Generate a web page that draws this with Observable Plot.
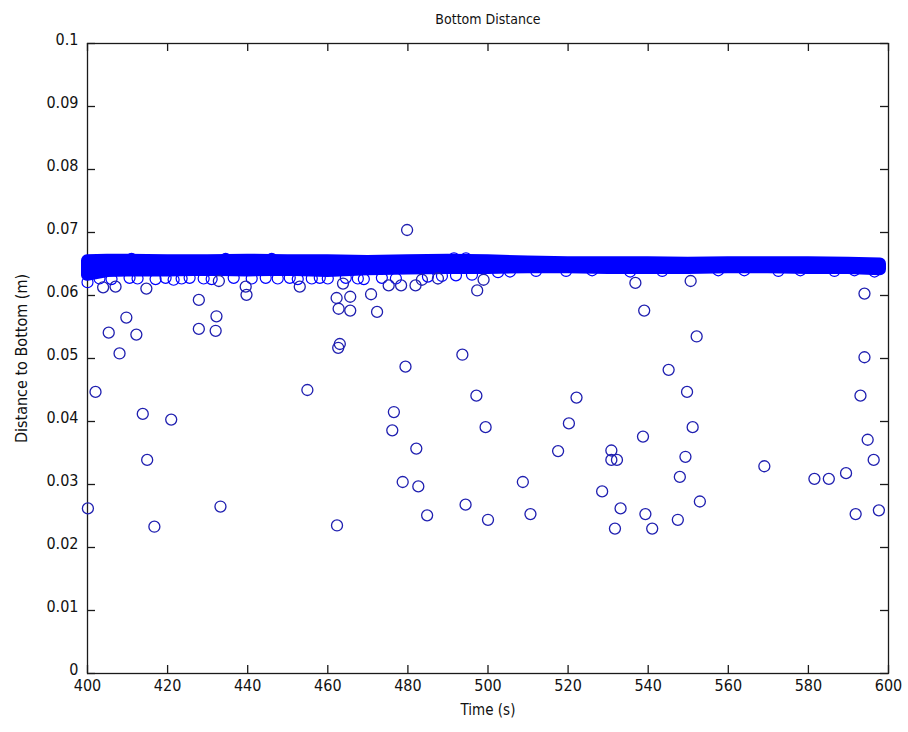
<!DOCTYPE html>
<html>
<head>
<meta charset="utf-8">
<script src="https://cdn.jsdelivr.net/npm/d3@7"></script>
<script src="https://cdn.jsdelivr.net/npm/@observablehq/plot@0.6"></script>
<style>
  body { margin: 0; background: #fff; }
  #chart svg { display: block; }
</style>
</head>
<body>
<div id="chart"></div>
<script>
const title = "Bottom Distance";
const xLabel = "Time (s)";
const yLabel = "Distance to Bottom (m)";

const xTicks = [400, 420, 440, 460, 480, 500, 520, 540, 560, 580, 600];
const xTickLabels = ["400", "420", "440", "460", "480", "500", "520", "540", "560", "580", "600"];
const yTicks = [0, 0.01, 0.02, 0.03, 0.04, 0.05, 0.06, 0.07, 0.08, 0.09, 0.1];
const yTickLabels = ["0", "0.01", "0.02", "0.03", "0.04", "0.05", "0.06", "0.07", "0.08", "0.09", "0.1"];

// Dense band of samples (envelope of marker centres)
const bandTime   = [400, 405, 410, 420, 430, 440, 450, 460, 470, 480, 490, 500, 510, 520, 530, 540, 550, 560, 570, 580, 590, 598];
const bandTop    = [0.0655, 0.0656, 0.0656, 0.0655, 0.0655, 0.0656, 0.0655, 0.0655, 0.0654, 0.0655, 0.0656, 0.0655, 0.0653, 0.0652, 0.0652, 0.0652, 0.0651, 0.0652, 0.0652, 0.0652, 0.0651, 0.0650];
const bandBottom = [0.0632, 0.0638, 0.0639, 0.0639, 0.0640, 0.0639, 0.0640, 0.0638, 0.0641, 0.0642, 0.0643, 0.0643, 0.0644, 0.0644, 0.0643, 0.0643, 0.0643, 0.0644, 0.0644, 0.0643, 0.0643, 0.0641];

// Ragged edge samples just around the band
const edgeTime  = [400.0, 403.0, 406.0, 410.5, 412.5, 417.0, 419.5, 421.5, 423.5, 425.5, 429.0, 431.0, 436.5, 441.0, 444.5, 447.5, 450.5, 452.5, 456.0, 458.0, 460.0, 464.5, 467.5, 469.0, 473.5, 477.0, 485.0, 488.5, 492.0, 496.0, 502.5, 505.5, 512.0, 519.5, 526.0, 535.5, 543.5, 557.5, 564.0, 572.5, 578.0, 586.5, 591.5, 596.5, 411.0, 434.5, 446.0, 491.5, 494.5];
const edgeValue = [0.0621, 0.0627, 0.0626, 0.0628, 0.0627, 0.0626, 0.0628, 0.0625, 0.0627, 0.0628, 0.0627, 0.0626, 0.0628, 0.0627, 0.0628, 0.0627, 0.0628, 0.0626, 0.0627, 0.0628, 0.0627, 0.0628, 0.0627, 0.0626, 0.0628, 0.0627, 0.0630, 0.0631, 0.0632, 0.0633, 0.0637, 0.0638, 0.0639, 0.0639, 0.0640, 0.0638, 0.0639, 0.0640, 0.0640, 0.0639, 0.0640, 0.0639, 0.0640, 0.0638, 0.0658, 0.0658, 0.0658, 0.0659, 0.0659];

// Isolated samples
const outlierTime  = [400.1, 402.0, 403.9, 405.3, 407.0, 408.0, 409.7, 412.2, 413.8, 414.7, 414.9, 416.7, 420.9, 427.8, 427.8, 432.0, 432.2, 432.8, 433.2, 439.5, 439.7, 453.0, 454.9, 462.2, 462.3, 462.7, 462.6, 463.0, 463.8, 465.6, 465.6, 470.8, 472.3, 475.2, 476.1, 476.5, 478.3, 478.7, 479.4, 479.8, 481.9, 482.1, 482.6, 483.5, 484.8, 487.5, 493.6, 494.4, 497.1, 497.3, 498.9, 499.4, 500.0, 508.7, 510.6, 517.5, 520.2, 522.1, 528.5, 530.8, 530.8, 531.7, 532.2, 533.1, 536.8, 538.7, 539.0, 539.3, 541.0, 545.1, 547.4, 547.9, 549.3, 549.7, 550.6, 551.1, 552.1, 552.9, 569.0, 581.5, 585.1, 589.4, 591.8, 593.0, 594.0, 594.0, 594.8, 596.3, 597.6];
const outlierValue = [0.0262, 0.0447, 0.0613, 0.0541, 0.0614, 0.0508, 0.0565, 0.0538, 0.0412, 0.0611, 0.0339, 0.0233, 0.0403, 0.0593, 0.0547, 0.0544, 0.0567, 0.0623, 0.0265, 0.0614, 0.0601, 0.0614, 0.0450, 0.0596, 0.0235, 0.0579, 0.0517, 0.0523, 0.0619, 0.0598, 0.0576, 0.0602, 0.0574, 0.0616, 0.0386, 0.0415, 0.0616, 0.0304, 0.0487, 0.0704, 0.0616, 0.0357, 0.0297, 0.0625, 0.0251, 0.0627, 0.0506, 0.0268, 0.0441, 0.0608, 0.0625, 0.0391, 0.0244, 0.0304, 0.0253, 0.0353, 0.0397, 0.0438, 0.0289, 0.0354, 0.0339, 0.0230, 0.0339, 0.0262, 0.0620, 0.0376, 0.0576, 0.0253, 0.0230, 0.0482, 0.0244, 0.0312, 0.0344, 0.0447, 0.0623, 0.0391, 0.0535, 0.0273, 0.0329, 0.0309, 0.0309, 0.0318, 0.0253, 0.0441, 0.0502, 0.0603, 0.0371, 0.0339, 0.0259];

const band = bandTime.map((t, i) => ({t, top: bandTop[i], bottom: bandBottom[i]}));
const edge = edgeTime.map((t, i) => ({t, v: edgeValue[i]}));
const outliers = outlierTime.map((t, i) => ({t, v: outlierValue[i]}));

const W = 908, H = 732;
const mL = 87, mR = 20, mT = 43, mB = 59;
const plotW = W - mL - mR, plotH = H - mT - mB;
const tickLen = 8;
const fontFam = "'DejaVu Sans Condensed', 'Liberation Sans Narrow', 'DejaVu Sans', sans-serif";
const axisColor = "#1a1a1a";
const blue = "#0000ff";

const chart = Plot.plot({
  width: W,
  height: H,
  marginLeft: mL,
  marginRight: mR,
  marginTop: mT,
  marginBottom: mB,
  x: {domain: [400, 600], axis: null},
  y: {domain: [0, 0.1], axis: null},
  style: {fontFamily: fontFam, background: "#fff", color: "#000"},
  marks: [
    Plot.frame({stroke: axisColor, strokeWidth: 1.3}),
    Plot.tickX(xTicks, {x: d => d, insetTop: plotH - tickLen, stroke: axisColor, strokeWidth: 1.3}),
    Plot.tickX(xTicks, {x: d => d, insetBottom: plotH - tickLen, stroke: axisColor, strokeWidth: 1.3}),
    Plot.tickY(yTicks, {y: d => d, insetRight: plotW - tickLen, stroke: axisColor, strokeWidth: 1.3}),
    Plot.tickY(yTicks, {y: d => d, insetLeft: plotW - tickLen, stroke: axisColor, strokeWidth: 1.3}),
    Plot.text(xTicks, {x: d => d, text: xTickLabels, frameAnchor: "bottom", lineAnchor: "top", dy: 6, fontSize: 16, fill: "#111"}),
    Plot.text(yTicks, {y: d => d, text: yTickLabels, frameAnchor: "left", textAnchor: "end", dx: -9, dy: -4, fontSize: 16, fill: "#111"}),
    Plot.text([title], {frameAnchor: "top", textAnchor: "middle", dy: -29, fontSize: 14, fill: "#111"}),
    Plot.text([xLabel], {frameAnchor: "bottom", textAnchor: "middle", dy: 41, fontSize: 15, fill: "#111"}),
    Plot.text([yLabel], {frameAnchor: "left", textAnchor: "middle", dx: -66, rotate: -90, fontSize: 16, letterSpacing: "0.6px", fill: "#111"}),
    Plot.areaY(band, {x: "t", y1: "bottom", y2: "top", fill: blue, stroke: blue, strokeWidth: 12, strokeLinejoin: "round"}),
    Plot.dot(edge, {x: "t", y: "v", r: 5.5, stroke: blue, strokeWidth: 1.2}),
    Plot.dot(outliers, {x: "t", y: "v", r: 5.5, stroke: "#1f1fb0", strokeWidth: 1.3})
  ]
});

document.getElementById("chart").appendChild(chart);
</script>
</body>
</html>
